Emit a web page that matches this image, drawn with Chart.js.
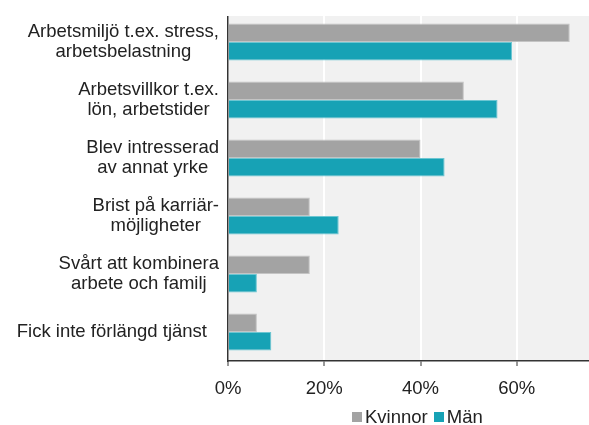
<!DOCTYPE html>
<html>
<head>
<meta charset="utf-8">
<script src="https://cdn.jsdelivr.net/npm/chart.js@4"></script>
<style>
  body { margin: 0; background: #fff; font-family: "Liberation Sans", Arial, sans-serif; }
  #wrap { position: relative; width: 589px; height: 425px; }
  #legend { position: absolute; top: 406px; left: 352px; font-size: 18.5px; color: #222; display: flex; align-items: center; }
  #legend span.box { display: inline-block; width: 10px; height: 10px; margin-right: 3px; }
  #legend span.item { display: flex; align-items: center; margin-right: 6px; }
</style>
</head>
<body>
<div id="wrap">
  <canvas id="chart" width="589" height="425"></canvas>
  <div id="legend"></div>
</div>
<script>
const categories = [
  ['Arbetsmiljö t.ex. stress,', 'arbetsbelastning'],
  ['Arbetsvillkor t.ex.', 'lön, arbetstider'],
  ['Blev intresserad', 'av annat yrke'],
  ['Brist på karriär-', 'möjligheter'],
  ['Svårt att kombinera', 'arbete och familj'],
  ['Fick inte förlängd tjänst']
];
const kvinnor = [71, 49, 40, 17, 17, 6];
const man = [59, 56, 45, 23, 6, 9];
const xTicks = [0, 20, 40, 60];

const plotBg = {
  id: 'plotBg',
  beforeDraw(chart) {
    const { ctx, chartArea: a } = chart;
    ctx.save();
    ctx.fillStyle = '#f1f1f1';
    ctx.fillRect(a.left, a.top + 3, a.right - a.left, a.bottom - a.top - 3);
    ctx.restore();
  }
};

// y labels: lines centred on each other, block right-aligned to the axis
const yLabels = {
  id: 'yLabels',
  afterDraw(chart) {
    const { ctx, chartArea: a } = chart;
    const y = chart.scales.y;
    ctx.save();
    ctx.font = '18.5px "Liberation Sans", Arial, sans-serif';
    ctx.fillStyle = '#222';
    ctx.textBaseline = 'middle';
    ctx.textAlign = 'center';
    categories.forEach((lines, i) => {
      const w = Math.max(...lines.map(l => ctx.measureText(l).width));
      const right = lines.length === 1 ? a.left - 21 : a.left - 9;
      const cx = right - w / 2;
      const cy = y.getPixelForValue(i);
      const lh = 20;
      lines.forEach((l, j) => {
        ctx.fillText(l, cx, cy + (j - (lines.length - 1) / 2) * lh);
      });
    });
    ctx.restore();
  }
};

// hide the axis line above the grey plot background
const trimTop = {
  id: 'trimTop',
  afterDraw(chart) {
    const { ctx, chartArea: a } = chart;
    ctx.save();
    ctx.fillStyle = '#fff';
    ctx.fillRect(a.left - 2, 0, 4, a.top + 3);
    ctx.restore();
  }
};

new Chart(document.getElementById('chart'), {
  type: 'bar',
  data: {
    labels: categories.map(c => c.join(' ')),
    datasets: [
      { label: 'Kvinnor', data: kvinnor, backgroundColor: '#a3a3a3', borderColor: '#c4c4c4', borderWidth: 1 },
      { label: 'Män', data: man, backgroundColor: '#17a2b5', borderColor: '#6cc6d2', borderWidth: 1 },
    ],
  },
  options: {
    indexAxis: 'y',
    responsive: false,
    animation: false,
    layout: { padding: { top: 13, right: 0, left: 0, bottom: 0 } },
    datasets: { bar: { categoryPercentage: 0.64, barPercentage: 1 } },
    plugins: { legend: { display: false }, tooltip: { enabled: false } },
    scales: {
      x: {
        min: 0,
        max: 75,
        afterBuildTicks: s => { s.ticks = xTicks.map(v => ({ value: v })); },
        afterFit: s => { s.height = 64; },
        grid: { color: '#ffffff', lineWidth: 2, tickColor: '#333', tickLength: 5, tickWidth: 1 },
        border: { display: true, color: '#333', width: 1.5 },
        ticks: {
          callback: v => v + '%',
          color: '#222',
          font: { size: 18.5, family: '"Liberation Sans", Arial, sans-serif' },
          padding: 12,
        },
      },
      y: {
        afterFit: s => { s.width = 228; },
        grid: { display: false },
        border: { display: true, color: '#333', width: 1.5 },
        ticks: { display: false },
      },
    },
  },
  plugins: [plotBg, yLabels, trimTop],
});

document.getElementById('legend').innerHTML = [
  ['Kvinnor', '#a3a3a3'],
  ['Män', '#17a2b5'],
].map(([t, c]) => `<span class="item"><span class="box" style="background:${c}"></span>${t}</span>`).join('');
</script>
</body>
</html>
